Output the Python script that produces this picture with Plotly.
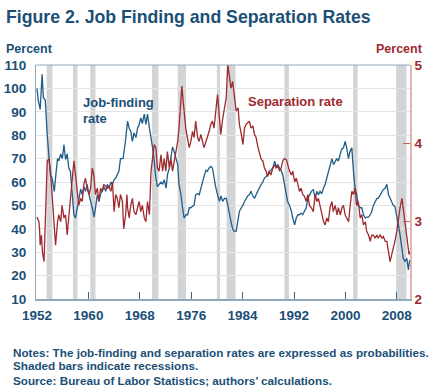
import plotly.graph_objects as go

# ---- data ----
jf_years = [1952.0, 1952.2, 1952.5, 1952.8, 1953.0, 1953.3, 1953.6, 1953.9, 1954.1, 1954.35,
            1954.7, 1954.9, 1955.2, 1955.4, 1955.7, 1955.95, 1956.2, 1956.45, 1956.7, 1956.95,
            1957.2, 1957.5, 1957.75, 1958.0, 1958.3, 1958.5, 1958.8, 1959.05, 1959.3, 1959.55,
            1959.8, 1960.1, 1960.3, 1960.6, 1960.9, 1961.1, 1961.4, 1961.65, 1961.9, 1962.15,
            1962.4, 1962.7, 1962.95, 1963.2, 1963.5, 1963.75, 1964.0, 1964.25, 1964.75, 1965.0,
            1965.4, 1965.75, 1966.0, 1966.1, 1966.35, 1966.6, 1966.85, 1967.1, 1967.4, 1967.65,
            1967.9, 1968.15, 1968.4, 1968.7, 1968.95, 1969.2, 1969.5, 1969.75, 1970.0, 1970.25,
            1970.5, 1970.75, 1971.0, 1971.3, 1971.55, 1971.8, 1972.1, 1972.3, 1972.6, 1972.85,
            1973.1, 1973.35, 1973.6, 1973.9, 1974.1, 1974.4, 1974.65, 1974.9, 1975.2, 1975.45,
            1975.7, 1975.95, 1976.2, 1976.45, 1976.7, 1977.0, 1977.25, 1977.5, 1977.8, 1978.0,
            1978.3, 1978.5, 1978.8, 1979.05, 1979.3, 1979.55, 1979.8, 1980.1, 1980.4, 1980.65,
            1980.9, 1981.2, 1981.45, 1981.7, 1981.95, 1982.2, 1982.45, 1982.7, 1983.0, 1983.3,
            1983.5, 1983.8, 1984.05, 1984.3, 1984.55, 1984.8, 1985.05, 1985.3, 1985.6, 1985.85,
            1986.1, 1986.4, 1986.6, 1986.9, 1987.15, 1987.4, 1987.65, 1987.9, 1988.15, 1988.4,
            1988.7, 1989.0, 1989.2, 1989.5, 1989.75, 1990.0, 1990.25, 1990.5, 1990.8, 1991.0,
            1991.3, 1991.6, 1991.8, 1992.1, 1992.35, 1992.6, 1992.85, 1993.1, 1993.35, 1993.6,
            1993.9, 1994.15, 1994.4, 1994.7, 1995.0, 1995.3, 1995.55, 1995.8, 1996.05, 1996.3,
            1996.6, 1996.85, 1997.1, 1997.4, 1997.6, 1997.9, 1998.15, 1998.4, 1998.65, 1998.9,
            1999.2, 1999.4, 1999.7, 1999.95, 2000.2, 2000.47, 2000.7, 2001.0, 2001.25, 2001.5,
            2001.75, 2002.0, 2002.3, 2002.55, 2002.8, 2003.1, 2003.3, 2003.6, 2003.85, 2004.1,
            2004.35, 2004.6, 2004.9, 2005.1, 2005.4, 2005.7, 2005.9, 2006.2, 2006.45, 2006.7,
            2006.95, 2007.2, 2007.45, 2007.7, 2008.0, 2008.25, 2008.5, 2008.8, 2009.0, 2009.3,
            2009.55, 2009.8, 2009.9, 2010.0]
jf_rate = [100, 95, 91, 106, 96, 95, 80, 70, 63, 61.7,
           56, 62, 70, 69, 72, 70, 76, 69.6, 72, 66,
           64.6, 54.6, 46, 44.6, 50, 53, 57, 54.6, 58, 56,
           59, 54.6, 51.7, 49, 45, 50, 54.6, 51.7, 55, 56,
           58, 56, 59, 57.4, 60, 59, 61, 61.7, 64.6, 70,
           70, 77, 82, 86, 83, 81.7, 77.4, 81, 79, 83,
           84.6, 87.4, 85, 89, 84.6, 89, 83, 79, 74.6, 69,
           61.7, 58, 59, 60, 59, 61, 57.4, 63, 66, 70,
           75, 73, 70, 67.4, 59, 54.6, 49, 44.6, 46, 46,
           49, 49, 49.6, 50, 54.6, 55, 54.6, 57.4, 60, 62.4,
           65, 64.6, 66, 66.7, 66, 61.7, 58, 54.6, 51.7, 54,
           51.7, 53, 53, 50, 46, 43, 40, 38.9, 39, 44.6,
           47.4, 49, 50, 51.7, 53, 54, 54.6, 56, 54, 53,
           54.6, 56, 57.4, 59, 60, 61.7, 62.4, 63, 64.6, 65,
           66, 68.9, 66.7, 67.4, 66, 65, 63, 59, 54.6, 51.7,
           50, 47.4, 44.6, 41.7, 44.6, 46, 46, 46.7, 46, 47.4,
           49, 53, 54.6, 56, 56.7, 53, 56, 54.6, 56, 55,
           57.4, 59, 61.7, 64.6, 66, 70, 67.4, 68.9, 70, 68.9,
           71.7, 74, 74.6, 77.4, 74.6, 70, 73, 74.6, 64.6, 57.4,
           54.6, 50, 49, 49, 46, 44.6, 45, 45, 46, 47.4,
           50, 51.7, 53, 53, 54.6, 56, 56.7, 57.4, 59, 54.6,
           53, 51.7, 50, 49.6, 46, 41.7, 37.4, 31.7, 27.4, 26,
           27.4, 22.4, 26, 26.7]

sep_years = [1952.0, 1952.3, 1952.4, 1952.5, 1952.7, 1952.85, 1953.1, 1953.35, 1953.6, 1953.85,
             1954.1, 1954.35, 1954.6, 1954.9, 1955.2, 1955.4, 1955.7, 1955.9, 1956.2, 1956.45,
             1956.7, 1956.95, 1957.2, 1957.5, 1957.75, 1958.0, 1958.25, 1958.5, 1958.8, 1959.05,
             1959.3, 1959.55, 1959.8, 1960.1, 1960.35, 1960.6, 1960.85, 1961.1, 1961.4, 1961.65,
             1961.9, 1962.15, 1962.4, 1962.7, 1962.95, 1963.2, 1963.5, 1963.75, 1964.0, 1964.25,
             1964.5, 1964.75, 1965.0, 1965.3, 1965.5, 1965.8, 1966.0, 1966.1, 1966.35, 1966.6,
             1966.85, 1967.1, 1967.4, 1967.65, 1967.9, 1968.15, 1968.4, 1968.7, 1968.95, 1969.2,
             1969.5, 1969.75, 1970.0, 1970.25, 1970.5, 1970.75, 1971.0, 1971.3, 1971.55, 1971.8,
             1972.05, 1972.3, 1972.6, 1972.85, 1973.1, 1973.35, 1973.6, 1973.9, 1974.1, 1974.4,
             1974.55, 1974.75, 1974.9, 1975.15, 1975.4, 1975.7, 1975.95, 1976.2, 1976.45, 1976.7,
             1977.0, 1977.25, 1977.5, 1977.8, 1978.0, 1978.3, 1978.5, 1978.8, 1979.05, 1979.3,
             1979.55, 1979.8, 1980.1, 1980.4, 1980.6, 1980.9, 1981.2, 1981.45, 1981.7, 1981.95,
             1982.2, 1982.45, 1982.7, 1983.0, 1983.3, 1983.5, 1983.8, 1984.05, 1984.3, 1984.55,
             1984.8, 1985.05, 1985.3, 1985.6, 1985.85, 1986.1, 1986.4, 1986.6, 1986.9, 1987.15,
             1987.4, 1987.65, 1987.9, 1988.15, 1988.4, 1988.7, 1989.0, 1989.2, 1989.5, 1989.75,
             1990.0, 1990.25, 1990.5, 1990.8, 1991.0, 1991.3, 1991.6, 1991.8, 1992.1, 1992.35,
             1992.6, 1992.85, 1993.1, 1993.35, 1993.6, 1993.9, 1994.15, 1994.4, 1994.7, 1995.0,
             1995.3, 1995.55, 1995.8, 1996.1, 1996.3, 1996.6, 1996.85, 1997.1, 1997.35, 1997.6,
             1997.9, 1998.1, 1998.4, 1998.7, 1998.9, 1999.2, 1999.45, 1999.7, 1999.95, 2000.2,
             2000.5, 2000.7, 2001.0, 2001.25, 2001.5, 2001.75, 2002.0, 2002.3, 2002.55, 2002.8,
             2003.1, 2003.3, 2003.6, 2003.85, 2004.1, 2004.35, 2004.6, 2004.9, 2005.1, 2005.4,
             2005.7, 2005.9, 2006.2, 2006.45, 2006.7, 2006.95, 2007.2, 2007.45, 2007.7, 2008.0,
             2008.25, 2008.5, 2008.8, 2009.0, 2009.3, 2009.55, 2009.8, 2009.9, 2010.0]
sep_rate = [3.05, 2.99, 2.90, 2.69, 2.82, 2.60, 2.48, 3.11, 3.77, 3.80,
            3.64, 3.34, 2.99, 2.69, 2.99, 3.08, 2.99, 3.20, 3.04, 3.08,
            2.82, 3.04, 3.20, 3.50, 3.77, 3.59, 3.42, 3.20, 3.29, 3.25,
            3.47, 3.55, 3.42, 3.34, 3.42, 3.68, 3.59, 3.34, 3.42, 3.25,
            3.42, 3.38, 3.47, 3.44, 3.42, 3.44, 3.38, 3.50, 3.12, 3.34,
            3.29, 3.17, 3.34, 3.25, 2.90, 3.08, 3.34, 3.17, 3.04, 3.20,
            3.29, 3.12, 3.08, 3.17, 3.25, 3.12, 3.20, 3.04, 2.99, 3.25,
            3.08, 3.64, 3.80, 3.98, 3.94, 3.68, 3.64, 3.85, 3.64, 3.80,
            3.64, 3.89, 3.68, 3.80, 3.64, 3.77, 3.89, 4.02, 4.19, 4.49,
            4.73, 4.54, 4.37, 4.19, 4.07, 3.94, 4.02, 4.15, 4.07, 4.28,
            4.07, 4.02, 4.11, 3.98, 3.94, 4.02, 4.07, 4.15, 4.24, 4.28,
            4.19, 4.37, 4.62, 4.32, 4.11, 4.31, 4.45, 4.58, 5.00, 4.84,
            4.70, 4.79, 4.62, 4.41, 4.45, 4.24, 4.11, 3.98, 4.19, 4.24,
            4.26, 4.28, 4.19, 4.22, 4.11, 4.07, 3.94, 3.89, 3.79, 3.77,
            3.68, 3.64, 3.57, 3.64, 3.59, 3.68, 3.72, 3.68, 3.70, 3.64,
            3.68, 3.77, 3.80, 3.79, 3.72, 3.64, 3.59, 3.64, 3.50, 3.55,
            3.47, 3.38, 3.42, 3.34, 3.32, 3.25, 3.34, 3.20, 3.17, 3.12,
            3.34, 3.25, 3.29, 3.17, 3.08, 2.99, 2.95, 3.04, 2.99, 3.17,
            3.25, 3.12, 3.20, 3.08, 3.17, 3.08, 3.17, 3.20, 3.08, 3.04,
            2.99, 3.17, 3.38, 3.34, 3.42, 3.20, 3.25, 3.04, 3.08, 2.95,
            2.99, 2.87, 2.82, 2.74, 2.82, 2.82, 2.78, 2.82, 2.78, 2.82,
            2.78, 2.80, 2.74, 2.74, 2.61, 2.48, 2.57, 2.65, 2.74, 2.87,
            3.04, 3.17, 3.29, 3.17, 2.99, 2.82, 2.69, 2.57, 2.61]

recession_start = [1953.5, 1957.6, 1960.3, 1969.9, 1973.9, 1980.0, 1981.5, 1990.5, 2001.2, 2007.9]
recession_end = [1954.4, 1958.3, 1961.1, 1970.9, 1975.2, 1980.5, 1982.9, 1991.2, 2001.9, 2009.5]

x_ticks = [1952, 1960, 1968, 1976, 1984, 1992, 2000, 2008]
left_ticks = [10, 20, 30, 40, 50, 60, 70, 80, 90, 100, 110]
right_ticks = [2, 3, 4, 5]

BLUE_TXT = "#1b4f76"
BLUE_LINE = "#1f5d8a"
RED = "#9e2a2e"
FONT = "Liberation Sans, Arial, sans-serif"

fig = go.Figure()
fig.add_trace(go.Scatter(x=jf_years, y=jf_rate, mode="lines",
                         line=dict(color=BLUE_LINE, width=1.3), yaxis="y", showlegend=False))
fig.add_trace(go.Scatter(x=sep_years, y=sep_rate, mode="lines",
                         line=dict(color=RED, width=1.3), yaxis="y2", showlegend=False))

shapes = []
for s, e in zip(recession_start, recession_end):
    shapes.append(dict(type="rect", xref="x", yref="paper", x0=s, x1=e, y0=0, y1=1,
                       fillcolor="#d3d4d6", line=dict(width=0), layer="between"))
# top border
shapes.append(dict(type="line", xref="paper", yref="paper", x0=0, x1=1, y0=1, y1=1,
                   line=dict(color="#8fa8bb", width=1)))
fig.update_layout(shapes=shapes)

fig.update_layout(
    width=432, height=390,
    margin=dict(l=36, r=22, t=65, b=91, pad=0),
    paper_bgcolor="white", plot_bgcolor="white",
    font=dict(family=FONT, color=BLUE_TXT),
    hovermode=False,
    xaxis=dict(range=[1951.85, 2010.05], tickvals=x_ticks, ticks="inside", ticklen=7,
               tickcolor="#2e6a94", showgrid=False, showline=True, linecolor="#8fa8bb",
               linewidth=1.5, zeroline=False, automargin=False, ticklabelstandoff=3,
               tickfont=dict(family=FONT, size=13.5, color=BLUE_TXT, weight="bold")),
    yaxis=dict(range=[10, 110], tickvals=left_ticks, showgrid=True, gridcolor="#e3e3e3",
               gridwidth=1, showline=True, linecolor="#8fa8bb", linewidth=1, zeroline=False,
               ticks="", ticklabelstandoff=6, automargin=False,
               tickfont=dict(family=FONT, size=13.5, color=BLUE_TXT, weight="bold")),
    yaxis2=dict(range=[2, 5], tickvals=right_ticks, overlaying="y", side="right",
                showgrid=False, showline=True, linecolor="#e6b3b3", linewidth=1.5,
                zeroline=False, ticks="inside", ticklen=7, tickcolor="#c06060",
                automargin=False,
                tickfont=dict(family=FONT, size=13.5, color=RED, weight="bold")),
)

def px_x(px):
    return (px - 36) / 374.0

def px_y(py):
    return (299 - py) / 234.0

ann = []
ann.append(dict(text="Figure 2. Job Finding and Separation Rates", xref="paper", yref="paper",
                x=px_x(4), y=px_y(16.5), xanchor="left", yanchor="middle", showarrow=False,
                font=dict(family=FONT, size=17.7, color=BLUE_TXT, weight="bold")))
ann.append(dict(text="Percent", xref="paper", yref="paper", x=px_x(4), y=px_y(48.5),
                xanchor="left", yanchor="middle", showarrow=False,
                font=dict(family=FONT, size=12.5, color=BLUE_TXT, weight="bold")))
ann.append(dict(text="Percent", xref="paper", yref="paper", x=px_x(425), y=px_y(48.5),
                xanchor="right", yanchor="middle", showarrow=False,
                font=dict(family=FONT, size=12.5, color=RED, weight="bold")))
ann.append(dict(text="Job-finding", xref="x", yref="y", x=1958.8, y=93.8,
                xanchor="left", yanchor="middle", showarrow=False,
                font=dict(family=FONT, size=13, color=BLUE_TXT, weight="bold")))
ann.append(dict(text="rate", xref="x", yref="y", x=1958.8, y=87.3,
                xanchor="left", yanchor="middle", showarrow=False,
                font=dict(family=FONT, size=13, color=BLUE_TXT, weight="bold")))
ann.append(dict(text="Separation rate", xref="x", yref="y", x=1992.2, y=94.4,
                xanchor="center", yanchor="middle", showarrow=False,
                font=dict(family=FONT, size=13, color=RED, weight="bold")))
notes = ["Notes: The job-finding and separation rates are expressed as probabilities.",
         "Shaded bars indicate recessions.",
         "Source: Bureau of Labor Statistics; authors\u2019 calculations."]
for i, t in enumerate(notes):
    ann.append(dict(text=t, xref="paper", yref="paper", x=px_x(11), y=px_y(352 + 14 * i),
                    xanchor="left", yanchor="middle", showarrow=False,
                    font=dict(family=FONT, size=11.7, color=BLUE_TXT, weight="bold")))
fig.update_layout(annotations=ann)

fig.write_html("out.html",
               config={"displayModeBar": False},
               post_script="document.body.style.margin='0px';"
                           "document.body.style.overflow='hidden';")
